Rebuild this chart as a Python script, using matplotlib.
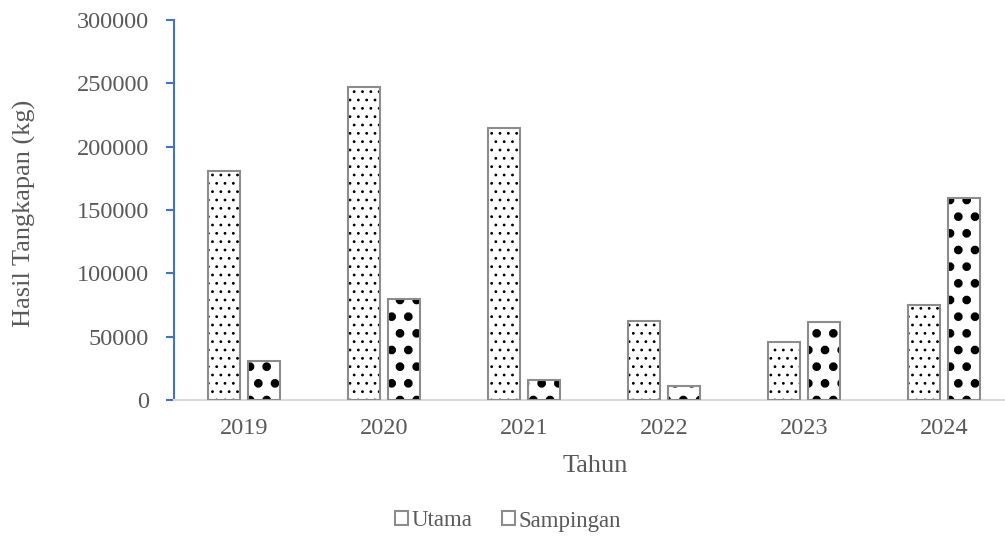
import matplotlib

matplotlib.use("Agg")
import matplotlib.pyplot as plt
from matplotlib.patches import Rectangle
import numpy as np

years = ["2019", "2020", "2021", "2022", "2023", "2024"]
utama = [180500, 247000, 215000, 62000, 45500, 75000]
sampingan = [30500, 80000, 15500, 11000, 61500, 159500]

plt.rcParams["font.family"] = ["Liberation Serif", "DejaVu Serif"]
grey_txt = "#595959"
blue = "#4472C4"
edge = "#8c8c8c"

fig = plt.figure(figsize=(10.05, 5.38), dpi=100)
ax = fig.add_axes([174 / 1005, 1 - 400 / 538, 840 / 1005, 380 / 538])

x = np.arange(len(years))
w = 0.229
off = 0.143


def make_bars(vals, pos, hatch, hlw):
    plt.rcParams["hatch.linewidth"] = hlw
    bars = ax.bar(pos, vals, width=w, color="white", edgecolor=edge,
                  linewidth=1.5, hatch=hatch, zorder=3)
    for b in bars:
        if hasattr(b, "set_hatch_linewidth"):
            b.set_hatch_linewidth(hlw)
        b._hatch_color = (0, 0, 0, 1)
    return bars


make_bars(utama, x - off, "..", 0.8)
make_bars(sampingan, x + off, ".", 3.8)

ax.set_xlim(-0.5, len(years) - 0.5)
ax.set_ylim(0, 300000)
ax.set_yticks(np.arange(0, 300001, 50000))
ax.set_xticks(x)
ax.set_xticklabels(years)

for s in ["top", "right"]:
    ax.spines[s].set_visible(False)
ax.spines["left"].set_color(blue)
ax.spines["left"].set_linewidth(1.5)
ax.spines["bottom"].set_color("#d9d9d9")
ax.spines["bottom"].set_linewidth(1.5)

ax.tick_params(axis="y", colors=blue, length=6, width=1.5, labelsize=17.5,
               labelcolor=grey_txt, pad=12)
ax.tick_params(axis="x", length=0, labelsize=17.5, labelcolor=grey_txt, pad=13)

fig.text(24 / 1005, 1 - 213 / 538, "Hasil Tangkapan (kg)", fontsize=19,
         color=grey_txt, ha="center", va="center", rotation=90)
fig.text(595 / 1005, 1 - 466 / 538, "Tahun", fontsize=19, color=grey_txt,
         ha="center", va="center")

handles = [Rectangle((0, 0), 1, 1, facecolor="white", edgecolor=edge, linewidth=1.5)
           for _ in range(2)]
fig.legend(handles, ["Utama", "Sampingan"], loc="center",
           bbox_to_anchor=(508 / 1005, 1 - 521 / 538), ncol=2,
           frameon=False, fontsize=16.5, handlelength=0.55, handleheight=0.55,
           handletextpad=0.15, columnspacing=1.3, labelcolor=grey_txt)

fig.savefig("out.png", dpi=100)
